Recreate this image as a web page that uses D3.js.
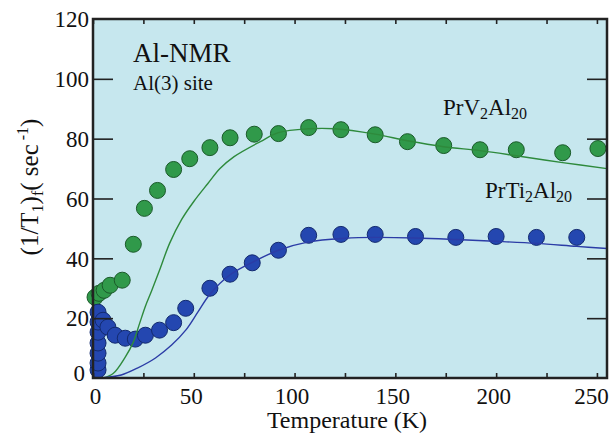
<!DOCTYPE html>
<html>
<head>
<meta charset="utf-8">
<script src="https://cdn.jsdelivr.net/npm/d3@7"></script>
<style>
  body { margin: 0; background: #fff; }
  svg text { font-family: "Liberation Serif", "Times New Roman", Tinos, "Nimbus Roman", "DejaVu Serif", "Noto Serif", serif; }
</style>
</head>
<body>
<svg id="chart" width="612" height="438"></svg>
<script>
// PrV2Al20 points (T in K, rate in 1/sec)
const vT = [1, 3, 5.5, 8.5, 14.5, 20, 25.5, 32, 40, 48, 58, 68, 80, 92, 107, 123, 140, 156, 174, 192, 210, 233, 250.5];
const vRate = [27, 28.3, 29.3, 31, 32.7, 44.7, 56.7, 62.7, 69.7, 73.3, 77, 80.3, 81.5, 81.7, 83.7, 83, 81.3, 79, 77.7, 76.3, 76.3, 75.3, 76.7];

// PrTi2Al20 points
const tiT = [2.5, 2.5, 2.5, 2.5, 2.5, 2.5, 2.5, 5, 7.4, 11, 16, 21, 26, 33, 40, 46, 58, 68, 79, 92, 107, 123, 140, 160, 180, 200, 220, 240];
const tiRate = [2.7, 5, 8.3, 11.7, 15.3, 18.7, 22, 19.3, 17, 14.3, 13.3, 13, 14.3, 16, 18.5, 23.3, 30, 34.7, 38.5, 42.7, 47.7, 48, 48, 47.3, 47, 47.3, 47, 47];

// fitted curves
const vFitT = [5, 10, 16, 20, 23, 26, 29, 33, 38, 44, 50, 57, 63, 70, 83, 92, 107, 120, 140, 156, 174, 192, 210, 233, 255];
const vFitRate = [0, 1.5, 7, 12, 18, 24, 29, 36, 45, 53, 59, 65, 70, 74, 79, 82, 83.3, 83.3, 81.5, 79.3, 77.3, 76, 74.3, 72, 70];
const tiFitT = [4, 14, 22, 31, 39, 46, 52, 58, 68, 80, 92, 107, 125, 140, 160, 180, 200, 220, 240, 255];
const tiFitRate = [0, 1, 3.3, 6.7, 11, 16, 22, 28, 34.5, 39, 42.7, 45.5, 46.7, 47, 46.8, 46.3, 45.7, 45, 44, 43.3];

const xTicks = [0, 50, 100, 150, 200, 250];
const yTicks = [0, 20, 40, 60, 80, 100, 120];

const serif = "'Liberation Serif', 'Times New Roman', Tinos, 'DejaVu Serif', serif";

const margin = {left: 93, right: 5, top: 19, bottom: 60};
const width = 612, height = 438;

const x = d3.scaleLinear([0, 255], [margin.left, width - margin.right]);
const y = d3.scaleLinear([0, 120], [height - margin.bottom, margin.top]);

const svg = d3.select("#chart");

svg.append("rect")
  .attr("x", x(0)).attr("y", y(120))
  .attr("width", x(255) - x(0)).attr("height", y(0) - y(120))
  .attr("fill", "#c6e7ee");

const line = d3.line().curve(d3.curveCatmullRom.alpha(0.5)).x(d => x(d[0])).y(d => y(d[1]));

const greenPts = vT.map((t, i) => [t, vRate[i]]);
const bluePts = tiT.map((t, i) => [t, tiRate[i]]);

svg.append("g").selectAll("circle")
  .data(greenPts)
  .join("circle")
  .attr("cx", d => x(d[0])).attr("cy", d => y(d[1])).attr("r", 8)
  .attr("fill", "#30994a").attr("stroke", "#1b5a2a").attr("stroke-width", 1);

svg.append("g").selectAll("circle")
  .data(bluePts)
  .join("circle")
  .attr("cx", d => x(d[0])).attr("cy", d => y(d[1])).attr("r", 8)
  .attr("fill", "#2447b0").attr("stroke", "#132a6e").attr("stroke-width", 1);

svg.append("path")
  .attr("d", line(vFitT.map((t, i) => [t, vFitRate[i]])))
  .attr("fill", "none").attr("stroke", "#2e8a3c").attr("stroke-width", 1.4);

svg.append("path")
  .attr("d", line(tiFitT.map((t, i) => [t, tiFitRate[i]])))
  .attr("fill", "none").attr("stroke", "#2b3ca6").attr("stroke-width", 1.4);

// axes (ticks inside the frame)
const axisColor = "#222";
const styleAxis = g => {
  g.attr("font-family", serif);
  g.select(".domain").remove();
  g.selectAll(".tick line").attr("stroke", axisColor).attr("stroke-width", 1.6);
  g.selectAll(".tick text").attr("fill", "#111").attr("font-size", 23).style("font-family", serif);
};

const minorX = d3.range(0, 251, 25);

svg.append("g")
  .attr("transform", `translate(0,${y(0)})`)
  .call(d3.axisBottom(x).tickValues(minorX).tickSize(-5).tickPadding(10)
    .tickFormat(d => xTicks.includes(d) ? d : ""))
  .call(styleAxis)
  .call(g => g.selectAll(".tick text").attr("dx", d => d === 250 ? -6 : d === 0 ? 2 : -3));

svg.append("g")
  .attr("transform", `translate(0,${y(120)})`)
  .call(d3.axisTop(x).tickValues(minorX).tickSize(-5).tickFormat(""))
  .call(styleAxis);

svg.append("g")
  .attr("transform", `translate(${x(0)},0)`)
  .call(d3.axisLeft(y).tickValues(yTicks).tickSize(-20).tickPadding(5))
  .call(styleAxis)
  .call(g => g.selectAll(".tick line").filter(d => d === 0 || d === 120).remove())
  .call(g => g.selectAll(".tick text").attr("x", d => d === 0 ? -8 : -4).attr("dy", d => d === 0 ? "0.1em" : "0.34em"));

svg.append("g")
  .attr("transform", `translate(${x(255)},0)`)
  .call(d3.axisRight(y).tickValues(yTicks.slice(1, -1)).tickSize(-20).tickFormat(""))
  .call(styleAxis);

// frame
svg.append("rect")
  .attr("x", x(0)).attr("y", y(120))
  .attr("width", x(255) - x(0)).attr("height", y(0) - y(120))
  .attr("fill", "none").attr("stroke", axisColor).attr("stroke-width", 2.5);

// x label
svg.append("text")
  .attr("x", 347).attr("y", 428)
  .attr("text-anchor", "middle").attr("font-size", 24).attr("fill", "#111")
  .style("font-family", serif)
  .text("Temperature (K)");

// y label
const yl = svg.append("text")
  .attr("transform", "translate(38,187) rotate(-90)")
  .attr("text-anchor", "middle").attr("font-size", 25).attr("fill", "#111")
  .style("font-family", serif);
yl.append("tspan").text("(1/T");
yl.append("tspan").attr("font-size", 16).attr("dy", 5).text("1");
yl.append("tspan").attr("dy", -5).text(")");
yl.append("tspan").attr("font-size", 16).attr("dy", 5).text("f");
yl.append("tspan").attr("dy", -5).text("( sec");
yl.append("tspan").attr("font-size", 16).attr("dy", -10).text(" -1");
yl.append("tspan").attr("dy", 10).text(")");

// annotations
svg.append("text").attr("x", 133).attr("y", 62).style("font-family", serif)
  .attr("font-size", 27).attr("fill", "#111").text("Al-NMR");
svg.append("text").attr("x", 133).attr("y", 90).style("font-family", serif)
  .attr("font-size", 21).attr("fill", "#111").text("Al(3) site");

function formula(xp, yp, main, sub1, main2, sub2) {
  const t = svg.append("text").attr("x", xp).attr("y", yp)
    .style("font-family", serif)
    .attr("font-size", 23).attr("fill", "#111");
  t.append("tspan").text(main);
  t.append("tspan").attr("font-size", 16).attr("dy", 4).text(sub1);
  t.append("tspan").attr("dy", -4).text(main2);
  t.append("tspan").attr("font-size", 16).attr("dy", 4).text(sub2);
}
formula(443, 115, "PrV", "2", "Al", "20");
formula(485, 198, "PrTi", "2", "Al", "20");
</script>
</body>
</html>
